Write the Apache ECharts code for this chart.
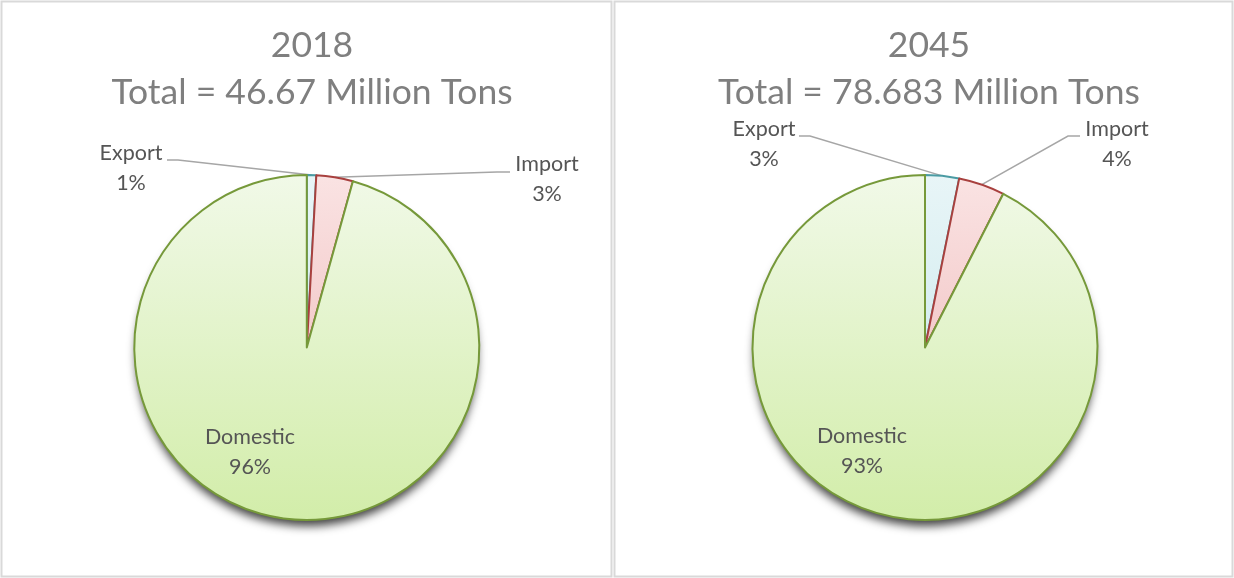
<!DOCTYPE html>
<html>
<head>
<meta charset="utf-8">
<script src="https://cdn.jsdelivr.net/npm/echarts@6/dist/echarts.min.js"></script>
<style>
  html, body { margin: 0; padding: 0; background: #ffffff; }
  #chart { width: 1234px; height: 578px; }
</style>
</head>
<body>
<div id="chart"></div>
<script>
// Freight tonnage by movement type (million tons)
const categories = ['Export', 'Import', 'Domestic'];
const years = ['2018', '2045'];
const totals = ['46.67', '78.683'];
const tons2018 = [0.41, 1.6, 44.66];
const tons2045 = [2.5, 3.4, 72.783];

const FONT = 'Lato, "Open Sans", sans-serif';

// Slice styling per category: gradient top/bottom and outline
const sliceStyle = {
  Export:   { top: '#e8f5f7', bottom: '#d5edf0', border: '#4a9ba3' },
  Import:   { top: '#fae3e3', bottom: '#f3caca', border: '#a8403e' },
  Domestic: { top: '#f1f9e8', bottom: '#d2eda9', border: '#76993a' }
};

// Where each label block sits, and the bend/end points of its leader line
const labelPlacement = [
  {
    Export:   { x: 131, y: 168, bend: [178, 160], end: [167, 160] },
    Import:   { x: 547, y: 179, bend: [497, 172], end: [510, 172] },
    Domestic: { x: 250, y: 452 }
  },
  {
    Export:   { x: 764, y: 144, bend: [810, 136], end: [799, 136] },
    Import:   { x: 1117, y: 144, bend: [1068, 136], end: [1080, 136] },
    Domestic: { x: 862, y: 451 }
  }
];

const pieCenters = [[306.8, 347.5], [925, 347.5]];
const panelCenters = [307, 924];
const PIE_RADIUS = 172.5;

function buildData(values) {
  return categories.map((name, i) => {
    const s = sliceStyle[name];
    return {
      name: name,
      value: values[i],
      itemStyle: {
        color: new echarts.graphic.LinearGradient(0, 0, 0, 1, [
          { offset: 0, color: s.top },
          { offset: 1, color: s.bottom }
        ]),
        borderColor: s.border
      },
      labelLine: { show: name !== 'Domestic' }
    };
  });
}

// Soft drop shadow beneath the whole pie, drawn as an underlay
function shadowSeries(values, idx) {
  return {
    type: 'pie',
    z: 1,
    center: pieCenters[idx],
    radius: [0, PIE_RADIUS - 2],
    startAngle: 90,
    clockwise: true,
    silent: true,
    label: { show: false },
    labelLine: { show: false },
    emphasis: { disabled: true },
    data: categories.map((name, i) => ({
      name: name,
      value: values[i],
      itemStyle: {
        color: '#888888',
        borderWidth: 0,
        shadowBlur: 10,
        shadowOffsetX: 0,
        shadowOffsetY: 8,
        shadowColor: 'rgba(0,0,0,0.75)'
      }
    }))
  };
}

function pieSeries(values, idx) {
  return {
    type: 'pie',
    z: 2,
    center: pieCenters[idx],
    radius: [0, PIE_RADIUS],
    startAngle: 90,
    clockwise: true,
    percentPrecision: 0,
    avoidLabelOverlap: false,
    silent: true,
    itemStyle: { borderWidth: 2 },
    label: {
      show: true,
      position: 'outside',
      formatter: '{b}\n{d}%',
      fontFamily: FONT,
      fontSize: 21.5,
      lineHeight: 30,
      color: '#555555',
      align: 'center'
    },
    labelLine: {
      show: true,
      length: 10,
      length2: 10,
      lineStyle: { color: '#a6a6a6', width: 1.5 }
    },
    labelLayout: function (params) {
      const name = categories[params.dataIndex];
      const p = labelPlacement[idx][name];
      const out = { x: p.x, y: p.y, align: 'center', verticalAlign: 'middle' };
      if (p.bend && params.labelLinePoints) {
        out.labelLinePoints = [params.labelLinePoints[0], p.bend, p.end];
      }
      return out;
    },
    data: buildData(values)
  };
}

const chart = echarts.init(document.getElementById('chart'), null, { renderer: 'canvas' });

chart.setOption({
  animation: false,
  backgroundColor: '#ffffff',
  title: years.map((y, i) => ({
    text: y + '\nTotal = ' + totals[i] + ' Million Tons',
    left: panelCenters[i],
    top: 17,
    textAlign: 'center',
    textStyle: {
      fontFamily: FONT,
      fontWeight: 'normal',
      fontSize: 35.5,
      lineHeight: 47,
      color: '#7f7f7f'
    }
  })),
  graphic: [
    {
      type: 'rect', silent: true, z: -1,
      shape: { x: 1.5, y: 1.5, width: 610, height: 575 },
      style: { fill: null, stroke: '#d9d9d9', lineWidth: 2 }
    },
    {
      type: 'rect', silent: true, z: -1,
      shape: { x: 614.5, y: 1.5, width: 618, height: 575 },
      style: { fill: null, stroke: '#d9d9d9', lineWidth: 2 }
    }
  ],
  series: [
    shadowSeries(tons2018, 0),
    shadowSeries(tons2045, 1),
    pieSeries(tons2018, 0),
    pieSeries(tons2045, 1)
  ]
});
</script>
</body>
</html>
